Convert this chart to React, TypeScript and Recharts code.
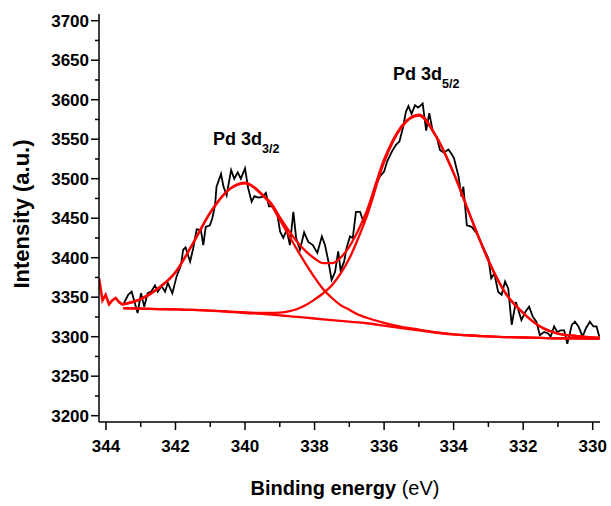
import React from 'react';
import { LineChart, Line, XAxis, YAxis } from 'recharts';

// Experimental XPS spectrum (binding energy, intensity)
const expX = [
  343.5, 343.36, 343.26, 343.09, 342.99, 342.9, 342.8, 342.7, 342.59, 342.51,
  342.4, 342.3, 342.22, 342.09, 341.97, 341.84, 341.78, 341.71, 341.58, 341.49,
  341.39, 341.27, 341.2, 341.13, 341.01, 340.94, 340.86, 340.82, 340.69, 340.62,
  340.53, 340.4, 340.31, 340.21, 340.12, 340.0, 339.91, 339.81, 339.73, 339.62,
  339.5, 339.4, 339.31, 339.18, 339.06, 338.99, 338.9, 338.8, 338.71, 338.61,
  338.53, 338.42, 338.3, 338.18, 338.05, 337.92, 337.79, 337.7, 337.6, 337.51,
  337.41, 337.32, 337.25, 337.15, 337.08, 336.98, 336.9, 336.81, 336.69, 336.6,
  336.48, 336.36, 336.26, 336.12, 336.0, 335.91, 335.78, 335.66, 335.56, 335.46,
  335.37, 335.3, 335.21, 335.11, 335.02, 334.89, 334.79, 334.7, 334.6, 334.49,
  334.39, 334.28, 334.15, 334.07, 333.99, 333.86, 333.77, 333.72, 333.62, 333.48,
  333.34, 333.2, 333.0, 332.92, 332.83, 332.72, 332.62, 332.52, 332.43, 332.33,
  332.21, 332.05, 331.93, 331.83, 331.72, 331.62, 331.52, 331.4, 331.28, 331.21,
  331.11, 331.02, 330.92, 330.82, 330.73, 330.6, 330.51, 330.41, 330.29, 330.19,
  330.08, 329.98, 329.89, 329.81,
];
const expY = [
  3341, 3353, 3357, 3330, 3355, 3338, 3355, 3357, 3365, 3357,
  3364, 3357, 3368, 3355, 3376, 3391, 3410, 3413, 3395, 3412,
  3436, 3435, 3416, 3439, 3441, 3450, 3467, 3490, 3506, 3490,
  3479, 3511, 3500, 3508, 3500, 3513, 3488, 3471, 3478, 3476,
  3477, 3482, 3465, 3465, 3452, 3433, 3425, 3435, 3416, 3458,
  3425, 3410, 3432, 3420, 3416, 3406, 3427, 3416, 3395, 3372,
  3382, 3408, 3384, 3395, 3412, 3427, 3425, 3458, 3458, 3446,
  3460, 3475, 3490, 3503, 3509, 3522, 3534, 3543, 3547, 3564,
  3585, 3592, 3582, 3593, 3590, 3595, 3561, 3583, 3560, 3553,
  3536, 3533, 3537, 3532, 3526, 3503, 3477, 3490, 3441, 3439,
  3431, 3418, 3399, 3374, 3380, 3357, 3353, 3370, 3361, 3315,
  3344, 3321, 3332, 3338, 3325, 3319, 3302, 3306, 3304, 3300,
  3313, 3306, 3308, 3308, 3291, 3315, 3319, 3313, 3300, 3311,
  3319, 3313, 3313, 3300,
];

// Red (fitted) segment at the high binding-energy end
const redNoiseX = [344.2, 344.1, 344.01, 343.91, 343.82, 343.72, 343.63, 343.5];
const redNoiseY = [3374, 3346, 3353, 3341, 3346, 3349, 3344, 3340];

// Fit curves
const fitX = [
  343.5, 343.0, 342.5, 342.0, 341.5, 341.0, 340.5, 340.0, 339.5, 339.25,
  339.0, 338.75, 338.5, 338.25, 338.0, 337.75, 337.5, 337.25, 337.0, 336.75,
  336.5, 336.0, 335.5, 335.0, 334.5, 334.0, 333.5, 333.0, 332.5, 332.0,
  331.5, 331.0, 330.5, 329.8,
];
const baselineY = [
  3336, 3335.5, 3335, 3334.5, 3334, 3333, 3331.5, 3330, 3329, 3328,
  3327, 3326, 3325, 3324, 3323, 3322, 3321, 3320, 3319, 3318,
  3317, 3314, 3311, 3308, 3305, 3303, 3301.5, 3300.5, 3299.5, 3299,
  3298.5, 3298, 3298, 3297.5,
];
const pd32Y = [
  3341, 3347.5, 3361, 3381.5, 3418, 3457, 3484.5, 3494, 3479, 3467,
  3448, 3429, 3410, 3392, 3375, 3360, 3349, 3340, 3334, 3328,
  3324, 3317.5, 3312.5, 3309, 3305.5, 3303, 3301.5, 3300.5, 3299.5, 3299,
  3298.5, 3298, 3298, 3297.5,
];
const pd52Y = [
  3336, 3335.5, 3335, 3334.5, 3334, 3333, 3332, 3330.7, 3330, 3330,
  3330.5, 3332, 3335, 3340, 3347, 3355, 3365, 3380, 3399, 3424,
  3452, 3521, 3565, 3580, 3553, 3507, 3450.5, 3396.5, 3354.5, 3330,
  3312.5, 3304, 3301, 3298.5,
];
const envelopeY = [
  3341, 3347.5, 3361, 3381.5, 3418, 3457, 3485, 3495, 3480, 3469,
  3451.5, 3435, 3420, 3408, 3399, 3393, 3393, 3400, 3414, 3434,
  3459, 3524.5, 3566.5, 3581, 3553.5, 3507, 3450.5, 3396.5, 3354.5, 3330,
  3312.5, 3304, 3301, 3298.5,
];

const xTicks = [344, 343, 342, 341, 340, 339, 338, 337, 336, 335, 334, 333, 332, 331, 330];
const yTicks = [
  3200, 3225, 3250, 3275, 3300, 3325, 3350, 3375, 3400, 3425, 3450, 3475,
  3500, 3525, 3550, 3575, 3600, 3625, 3650, 3675, 3700,
];
const xDomain = [329.79, 344.2];
const yDomain = [3192, 3708.5];

const FONT = '"Liberation Sans", Arial, sans-serif';

const toPts = (xs: number[], ys: number[]) => xs.map((x, i) => ({ x, y: ys[i] }));
const expData = toPts(expX, expY);
const redNoiseData = toPts(redNoiseX, redNoiseY);
const baselineData = toPts(fitX, baselineY);
const pd32Data = toPts(fitX, pd32Y);
const pd52Data = toPts(fitX, pd52Y);
const envelopeData = toPts(fitX, envelopeY);

const YTick = (props: any) => {
  const { x, y, payload } = props;
  const v = payload.value;
  const major = v % 50 === 0;
  return (
    <g>
      <line x1={x} x2={x - (major ? 8 : 4)} y1={y} y2={y} stroke="#000" strokeWidth={1.5} />
      {major && (
        <text x={x - 10} y={y + 6} textAnchor="end" fontFamily={FONT} fontWeight="bold" fontSize={17} fill="#000">
          {v}
        </text>
      )}
    </g>
  );
};

const XTick = (props: any) => {
  const { x, y, payload } = props;
  const v = payload.value;
  const major = Math.round(v) % 2 === 0;
  return (
    <g>
      <line x1={x} x2={x} y1={y} y2={y + (major ? 8 : 5)} stroke="#000" strokeWidth={1.5} />
      {major && (
        <text x={x} y={y + 30} textAnchor="middle" fontFamily={FONT} fontWeight="bold" fontSize={17} fill="#000">
          {v}
        </text>
      )}
    </g>
  );
};

export default function App() {
  const common = { dataKey: 'y', dot: false, isAnimationActive: false, activeDot: false } as any;
  return (
    <div style={{ position: 'absolute', left: 0, top: 0, width: 611, height: 506, background: '#fff' }}>
      <LineChart width={611} height={506} margin={{ top: 14, right: 11, bottom: 0, left: 0 }}>
        <XAxis
          dataKey="x"
          type="number"
          domain={xDomain}
          reversed
          allowDataOverflow
          ticks={xTicks}
          interval={0}
          height={84}
          tickSize={0}
          tickMargin={0}
          tickLine={false}
          tick={<XTick />}
          axisLine={{ stroke: '#000', strokeWidth: 1.5 }}
        />
        <XAxis
          xAxisId="top"
          orientation="top"
          dataKey="x"
          type="number"
          domain={xDomain}
          reversed
          allowDataOverflow
          height={0}
          tick={false}
          tickLine={false}
          axisLine={{ stroke: '#000', strokeWidth: 1.5 }}
        />
        <YAxis
          type="number"
          domain={yDomain}
          allowDataOverflow
          ticks={yTicks}
          interval={0}
          width={99}
          tickSize={0}
          tickMargin={0}
          tickLine={false}
          tick={<YTick />}
          axisLine={{ stroke: '#000', strokeWidth: 1.5 }}
        />
        <YAxis
          yAxisId="right"
          orientation="right"
          type="number"
          domain={yDomain}
          allowDataOverflow
          width={0}
          tick={false}
          tickLine={false}
          axisLine={{ stroke: '#000', strokeWidth: 1.5 }}
        />
        <Line {...common} data={expData} type="linear" stroke="#000" strokeWidth={1.8} />
        <Line {...common} data={redNoiseData} type="linear" stroke="#ff0000" strokeWidth={2.6} />
        <Line {...common} data={baselineData} type="monotone" stroke="#ff0000" strokeWidth={2.3} />
        <Line {...common} data={pd32Data} type="monotone" stroke="#ff0000" strokeWidth={2.3} />
        <Line {...common} data={pd52Data} type="monotone" stroke="#ff0000" strokeWidth={2.3} />
        <Line {...common} data={envelopeData} type="monotone" stroke="#ff0000" strokeWidth={2.3} />
      </LineChart>
      <svg
        width={611}
        height={506}
        style={{ position: 'absolute', left: 0, top: 0, pointerEvents: 'none' }}
      >
        <text
          transform="translate(29,214) rotate(-90)"
          textAnchor="middle"
          fontFamily={FONT}
          fontWeight="bold"
          fontSize={22}
          fill="#000"
        >
          Intensity (a.u.)
        </text>
        <text x={345} y={495} textAnchor="middle" fontFamily={FONT} fontSize={20} fill="#000">
          <tspan fontWeight="bold">Binding energy </tspan>
          <tspan fontWeight="normal">(eV)</tspan>
        </text>
        <text x={213} y={145} fontFamily={FONT} fontWeight="bold" fontSize={18} fill="#000">
          Pd 3d
          <tspan fontSize={12.5} dy={7.5}>3/2</tspan>
        </text>
        <text x={393} y={80} fontFamily={FONT} fontWeight="bold" fontSize={18} fill="#000">
          Pd 3d
          <tspan fontSize={12.5} dy={8}>5/2</tspan>
        </text>
      </svg>
    </div>
  );
}
